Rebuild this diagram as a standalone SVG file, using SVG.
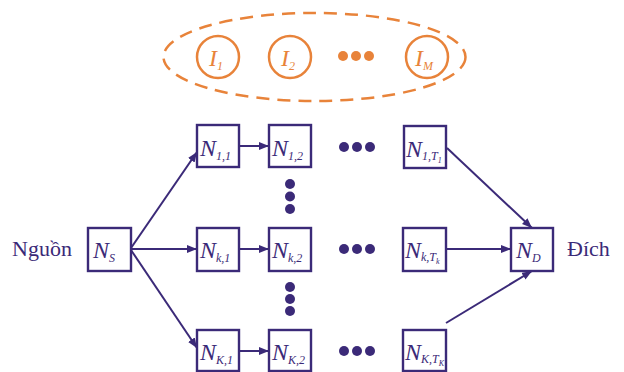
<svg xmlns="http://www.w3.org/2000/svg" width="624" height="372" viewBox="0 0 624 372">
  <style>
    .box { fill: #ffffff; stroke: #3b2a78; stroke-width: 2.4; }
    .edge { stroke: #3b2a78; stroke-width: 2; fill: none; }
    .n { font-family: "Liberation Serif", "Times New Roman", serif; font-style: italic; font-size: 24px; fill: #3b2a78; }
    .s { font-size: 12px; }
    .ss { font-size: 8px; }
    .lbl { font-family: "Liberation Serif", "Times New Roman", serif; font-size: 22px; fill: #3b2a78; }
    .dot { fill: #3b2a78; }
    .odot { fill: #e8833a; }
    .iset { fill: none; stroke: #e8833a; stroke-width: 2.5; }
    .i { font-family: "Liberation Serif", "Times New Roman", serif; font-style: italic; font-size: 24px; fill: #e8833a; }
  </style>
  <defs>
    <marker id="arrow" viewBox="0 0 10 8" refX="10" refY="4" markerWidth="10" markerHeight="8" markerUnits="userSpaceOnUse" orient="auto">
      <path d="M0,0 L10,4 L0,8 Z" fill="#3b2a78"/>
    </marker>
  </defs>

  <!-- interference set -->
  <g id="interference">
    <ellipse class="iset" cx="314.5" cy="57" rx="151" ry="44" stroke-dasharray="13 8"/>
    <g id="I1">
      <circle class="iset" cx="218" cy="57" r="21"/>
      <text class="i" x="209" y="66">I<tspan class="s" dy="4">1</tspan></text>
    </g>
    <g id="I2">
      <circle class="iset" cx="290" cy="57" r="21"/>
      <text class="i" x="281" y="66">I<tspan class="s" dy="4">2</tspan></text>
    </g>
    <circle class="odot" cx="343" cy="56" r="5"/>
    <circle class="odot" cx="356" cy="56" r="5"/>
    <circle class="odot" cx="369" cy="56" r="5"/>
    <g id="IM">
      <circle class="iset" cx="427" cy="57" r="21"/>
      <text class="i" x="415" y="66">I<tspan class="s" dy="4">M</tspan></text>
    </g>
  </g>

  <!-- connectors -->
  <g id="connectors">
    <line class="edge" x1="131" y1="248" x2="197" y2="152" marker-end="url(#arrow)"/>
    <line class="edge" x1="131" y1="249" x2="197" y2="249" marker-end="url(#arrow)"/>
    <line class="edge" x1="131" y1="250" x2="197" y2="348" marker-end="url(#arrow)"/>
    <line class="edge" x1="239" y1="146" x2="269" y2="146" marker-end="url(#arrow)"/>
    <line class="edge" x1="239" y1="249" x2="269" y2="249" marker-end="url(#arrow)"/>
    <line class="edge" x1="239" y1="351" x2="269" y2="351" marker-end="url(#arrow)"/>
    <line class="edge" x1="447" y1="148" x2="532" y2="228" marker-end="url(#arrow)"/>
    <line class="edge" x1="446" y1="249" x2="511" y2="249" marker-end="url(#arrow)"/>
    <line class="edge" x1="446" y1="323" x2="532" y2="271" marker-end="url(#arrow)"/>
  </g>

  <!-- ellipsis dots -->
  <g id="dots">
    <circle class="dot" cx="344" cy="147" r="5"/>
    <circle class="dot" cx="357" cy="147" r="5"/>
    <circle class="dot" cx="370" cy="147" r="5"/>
    <circle class="dot" cx="344" cy="249" r="5"/>
    <circle class="dot" cx="357" cy="249" r="5"/>
    <circle class="dot" cx="370" cy="249" r="5"/>
    <circle class="dot" cx="344" cy="351" r="5"/>
    <circle class="dot" cx="357" cy="351" r="5"/>
    <circle class="dot" cx="370" cy="351" r="5"/>
    <circle class="dot" cx="290" cy="184" r="5"/>
    <circle class="dot" cx="290" cy="196.5" r="5"/>
    <circle class="dot" cx="290" cy="209" r="5"/>
    <circle class="dot" cx="290" cy="287" r="5"/>
    <circle class="dot" cx="290" cy="299" r="5"/>
    <circle class="dot" cx="290" cy="311" r="5"/>
  </g>

  <!-- labels -->
  <text class="lbl" x="12" y="256">Nguồn</text>
  <text class="lbl" x="567" y="256">Đích</text>

  <!-- nodes -->
  <g id="NS">
    <rect class="box" x="88" y="228" width="43" height="43"/>
    <text class="n" x="93" y="258">N<tspan class="s" dy="4">S</tspan></text>
  </g>
  <g id="N11">
    <rect class="box" x="197" y="125" width="42" height="42"/>
    <text class="n" x="200" y="156">N<tspan class="s" dy="4">1,1</tspan></text>
  </g>
  <g id="N12">
    <rect class="box" x="269" y="125" width="42" height="42"/>
    <text class="n" x="272" y="156">N<tspan class="s" dy="4">1,2</tspan></text>
  </g>
  <g id="N1T">
    <rect class="box" x="404" y="126" width="42" height="42"/>
    <text class="n" x="406" y="157">N<tspan class="s" dy="3">1,T</tspan><tspan class="ss" dy="3">1</tspan></text>
  </g>
  <g id="Nk1">
    <rect class="box" x="197" y="228" width="42" height="43"/>
    <text class="n" x="200" y="258">N<tspan class="s" dy="4">k,1</tspan></text>
  </g>
  <g id="Nk2">
    <rect class="box" x="269" y="228" width="42" height="43"/>
    <text class="n" x="272" y="258">N<tspan class="s" dy="4">k,2</tspan></text>
  </g>
  <g id="NkT">
    <rect class="box" x="403" y="228" width="43" height="43"/>
    <text class="n" x="405" y="258">N<tspan class="s" dy="3">k,T</tspan><tspan class="ss" dy="3">k</tspan></text>
  </g>
  <g id="ND">
    <rect class="box" x="511" y="228" width="42" height="43"/>
    <text class="n" x="516" y="258">N<tspan class="s" dy="4">D</tspan></text>
  </g>
  <g id="NK1">
    <rect class="box" x="197" y="330" width="42" height="41"/>
    <text class="n" x="200" y="360">N<tspan class="s" dy="4">K,1</tspan></text>
  </g>
  <g id="NK2">
    <rect class="box" x="269" y="330" width="42" height="41"/>
    <text class="n" x="272" y="360">N<tspan class="s" dy="4">K,2</tspan></text>
  </g>
  <g id="NKT">
    <rect class="box" x="403" y="330" width="43" height="41"/>
    <text class="n" x="405" y="360">N<tspan class="s" dy="3">K,T</tspan><tspan class="ss" dy="3">K</tspan></text>
  </g>
</svg>
